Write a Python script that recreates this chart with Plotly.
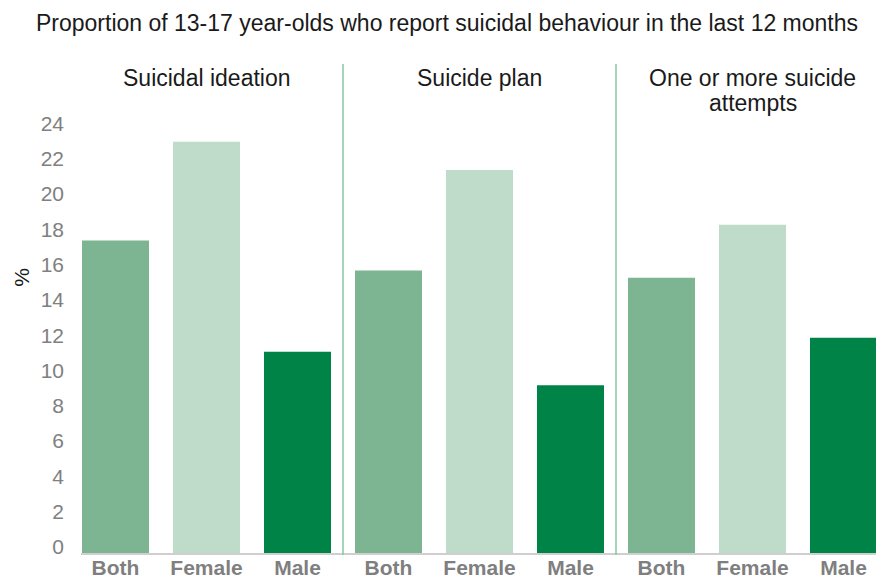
import plotly.graph_objects as go

# ---- data ----
title_text = "Proportion of 13-17 year-olds who report suicidal behaviour in the last 12 months"
groups = ["Suicidal ideation", "Suicide plan", "One or more suicide<br>attempts"]
sexes = ["Both", "Female", "Male"]
both = [17.7, 16.0, 15.6]
female = [23.3, 21.7, 18.6]
male = [11.4, 9.5, 12.2]
yticks = [0, 2, 4, 6, 8, 10, 12, 14, 16, 18, 20, 22, 24]

series = {"Both": both, "Female": female, "Male": male}
colors = {"Both": "#7db592", "Female": "#bfdbca", "Male": "#008346"}
FONT = "Liberation Sans, Arial, sans-serif"

W, H = 876, 578
L, R, T, B = 81, 0, 64, 24.5
plot_h = H - T - B
px_per_unit = 17.67
ymax = plot_h / px_per_unit
label_shift = 6 / px_per_unit
pitch_px = 91
bar_w = 67 / pitch_px
x0 = -(34.5 / pitch_px)
x1 = x0 + (W - L - R) / pitch_px

n = len(sexes)
fig = go.Figure()
for j, s in enumerate(sexes):
    xs = [i * n + j for i in range(len(groups))]
    fig.add_trace(go.Bar(x=xs, y=series[s], width=bar_w, marker_color=colors[s],
                         marker_line_width=0, name=s, showlegend=False))

# invisible trace to activate the label axis
fig.add_trace(go.Scatter(x=[0], y=[0], yaxis="y2", mode="markers",
                         marker_opacity=0, showlegend=False, hoverinfo="skip"))

tickvals = [i * n + j for i in range(len(groups)) for j in range(n)]
ticktext = [s for _ in groups for s in sexes]

# separators between groups
for i in range(1, len(groups)):
    fig.add_shape(type="line", xref="x", yref="paper", x0=i * n - 0.5, x1=i * n - 0.5,
                  y0=-0.004, y1=1, line=dict(color="#82c8a4", width=1.5), layer="above")

# group labels
for i, g in enumerate(groups):
    for k, line in enumerate(g.split("<br>")):
        fig.add_annotation(x=i * n + 1, xref="x", y=1, yref="paper", yanchor="top",
                           text=line, showarrow=False, yshift=1 - k * 25,
                           font=dict(family=FONT, size=23, color="#1a1a1a"))

# y-axis title
fig.add_annotation(xref="paper", x=(22 - L) / (W - L - R), xanchor="center",
                   yref="paper", y=(H - B - 278) / plot_h, yanchor="middle",
                   text="%", textangle=-90, showarrow=False,
                   font=dict(family=FONT, size=21, color="#1a1a1a"))

fig.update_layout(
    width=W, height=H,
    margin=dict(l=L, r=R, t=T, b=B, autoexpand=False),
    paper_bgcolor="white", plot_bgcolor="white",
    barmode="overlay",
    title=dict(text=title_text, x=447 / W, xref="container", xanchor="center",
               y=1 - 23 / H, yref="container", yanchor="middle",
               font=dict(family=FONT, size=23, color="#1a1a1a")),
    xaxis=dict(range=[x0, x1], tickvals=tickvals, ticktext=ticktext,
               tickfont=dict(family=FONT, size=21, color="#7f7f7f", weight="bold"),
               showline=True, linecolor="#cfcfcf", linewidth=1.5, automargin=False,
               showgrid=False, zeroline=False, ticks="", ticklabelstandoff=-5),
    yaxis=dict(range=[0, ymax], showticklabels=False, showgrid=False,
               zeroline=False, ticks="", automargin=False),
    yaxis2=dict(overlaying="y", side="left", range=[-label_shift, ymax - label_shift],
                tickvals=yticks, tickfont=dict(family=FONT, size=21, color="#808080"),
                showgrid=False, zeroline=False, ticks="", ticklabelstandoff=16,
                automargin=False),
    font=dict(family=FONT),
)

fig.write_html("out.html")
